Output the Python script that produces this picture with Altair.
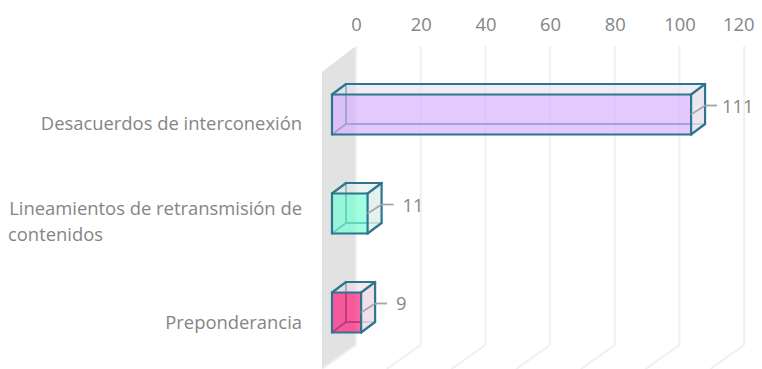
import altair as alt
import pandas as pd

categories = ["Desacuerdos de interconexión", "Lineamientos de retransmisión de", "Preponderancia"]
extra_line = ["", "contenidos", ""]
values = [111, 11, 9]
fills = ["#D8B2FF", "#77FFD4", "#FF1F7A"]
tints = ["#E6E3EF", "#E1EFEA", "#EDDBE6"]
ticks = [0, 20, 40, 60, 80, 100, 120]

FONT = "Open Sans"
FS = 18.4
TEXT = "#858585"
EDGE = "#2E7590"
PX_X = 3.235          # pixels per value unit
PX_Y = 99.0           # pixels per row
Y0 = 114.5            # page y of first row centre
X0 = 356.0            # page x of value 0 on the back wall
W, H = 746, 333
TOP = 36

def dx(p): return p / PX_X
def py(p): return (p - Y0) / PX_Y
def dy(p): return p / PX_Y

xs = alt.Scale(domain=[(8 - X0) / PX_X, (8 + W - X0) / PX_X], nice=False, zero=False)
ys = alt.Scale(domain=[py(TOP + H), py(TOP)], nice=False, zero=False)
AX = alt.Axis(orient="top", values=ticks, title=None, domain=False, ticks=False, grid=False,
              labelFont=FONT, labelFontSize=FS, labelColor=TEXT, labelPadding=2, format="d",
              labelOffset={"expr": "datum.value == 120 ? -6 : 0"})
X = lambda f="x": alt.X(f"{f}:Q", scale=xs, axis=AX)
Y = lambda f="y": alt.Y(f"{f}:Q", scale=ys, axis=None)

# back wall
wall = pd.DataFrame({"x": [dx(-34), 0], "y": [py(369), py(345)], "y2": [py(72), py(46)]})
wall_l = alt.Chart(wall).mark_area(color="#E2E2E2", clip=True).encode(X(), Y(), y2="y2:Q")

# gridlines
grid_rows = []
for t in ticks:
    grid_rows.append(dict(x=t, x2=t, y=py(46), y2=py(345)))
    grid_rows.append(dict(x=t, x2=t + dx(-34), y=py(345), y2=py(369)))
grid_l = alt.Chart(pd.DataFrame(grid_rows)).mark_rule(color="#F0F0F0", strokeWidth=2, clip=True).encode(
    X(), x2="x2:Q", y=Y(), y2="y2:Q")

# bars in pseudo 3D
back, front, side, top_face = [], [], [], []
leader, labels = [], []
for i, (v, tint) in enumerate(zip(values, tints)):
    h = dy(20)
    fl, fr = dx(-24), v + dx(-24)
    bl, br = dx(-10), v + dx(-10)
    ft, fb = i - h, i + h
    bt, bb = ft - dy(10.5), fb - dy(10.5)
    back += [dict(x=bl, x2=br, y=bb, y2=bb), dict(x=bl, x2=bl, y=bt, y2=bb), dict(x=fl, x2=bl, y=fb, y2=bb)]
    front += [dict(x=fl, x2=fr, y=ft, y2=ft), dict(x=fl, x2=fr, y=fb, y2=fb),
              dict(x=fl, x2=fl, y=ft, y2=fb), dict(x=fr, x2=fr, y=ft, y2=fb),
              dict(x=bl, x2=br, y=bt, y2=bt), dict(x=br, x2=br, y=bt, y2=bb),
              dict(x=fl, x2=bl, y=ft, y2=bt), dict(x=fr, x2=br, y=ft, y2=bt),
              dict(x=fr, x2=br, y=fb, y2=bb)]
    side += [dict(b=i, x=fr, y=fb, y2=ft, c=tint), dict(b=i, x=br, y=bb, y2=bt, c=tint)]
    top_face += [dict(b=i, y=ft, x=fl, x2=fr, c=tint), dict(b=i, y=bt, x=bl, x2=br, c=tint)]
    leader += [dict(x=fr, x2=br, y=i, y2=i - dy(9)),
               dict(x=br, x2=br + dx(12), y=i - dy(9), y2=i - dy(9))]
    gap = 17 if v > 100 else 21
    labels.append(dict(x=br + dx(gap), y=i - dy(8 if v > 10 else 9), t=str(v)))

bar_df = pd.DataFrame([dict(x=dx(-24), x2=v + dx(-24), y=i - dy(20), y2=i + dy(20), c=c)
                       for i, (v, c) in enumerate(zip(values, fills))])

tint_c = alt.Color("c:N", scale=None)
side_l = alt.Chart(pd.DataFrame(side)).mark_area(opacity=0.85).encode(X(), Y(), y2="y2:Q", detail="b:N", color=tint_c)
top_l = alt.Chart(pd.DataFrame(top_face)).mark_area(opacity=0.6, orient="horizontal").encode(
    Y(), X(), x2="x2:Q", detail="b:N", color=tint_c)
back_l = alt.Chart(pd.DataFrame(back)).mark_rule(color=EDGE, strokeWidth=2).encode(X(), x2="x2:Q", y=Y(), y2="y2:Q")
face_l = alt.Chart(bar_df).mark_rect(opacity=0.7).encode(
    X(), x2="x2:Q", y=Y(), y2="y2:Q", color=alt.Color("c:N", scale=None))
front_l = alt.Chart(pd.DataFrame(front)).mark_rule(color=EDGE, strokeWidth=2.2, strokeCap="round").encode(
    X(), x2="x2:Q", y=Y(), y2="y2:Q")
lead_l = alt.Chart(pd.DataFrame(leader)).mark_rule(color="#A6A6A6", strokeWidth=1.8).encode(
    X(), x2="x2:Q", y=Y(), y2="y2:Q")
val_l = alt.Chart(pd.DataFrame(labels)).mark_text(font=FONT, fontSize=FS, color=TEXT, align="left", baseline="middle").encode(
    X(), Y(), text="t:N")

right = (302 - X0) / PX_X
left = (8 - X0) / PX_X
cat_rows = [dict(x=right, y=0 + dy(9), t=categories[0]),
            dict(x=right, y=1 - dy(4.5), t=categories[1]),
            dict(x=right, y=2 + dy(10), t=categories[2])]
cat_l = alt.Chart(pd.DataFrame(cat_rows)).mark_text(font=FONT, fontSize=FS, color=TEXT, align="right", baseline="middle").encode(
    X(), Y(), text="t:N")
extra_rows = [dict(x=left, y=1 + dy(21.5), t=extra_line[1])]
extra_l = alt.Chart(pd.DataFrame(extra_rows)).mark_text(font=FONT, fontSize=FS, color=TEXT, align="left", baseline="middle").encode(
    X(), Y(), text="t:N")

chart = alt.layer(wall_l, grid_l, back_l, side_l, top_l, face_l, front_l, lead_l, val_l, cat_l, extra_l).properties(
    width=W, height=H,
    background="white",
    padding={"top": TOP - 8, "left": 0, "right": 0, "bottom": 0},
    autosize=alt.AutoSizeParams(type="none"),
).configure_view(stroke=None)

chart.save("out.html", embed_options={"renderer": "svg", "actions": False})
